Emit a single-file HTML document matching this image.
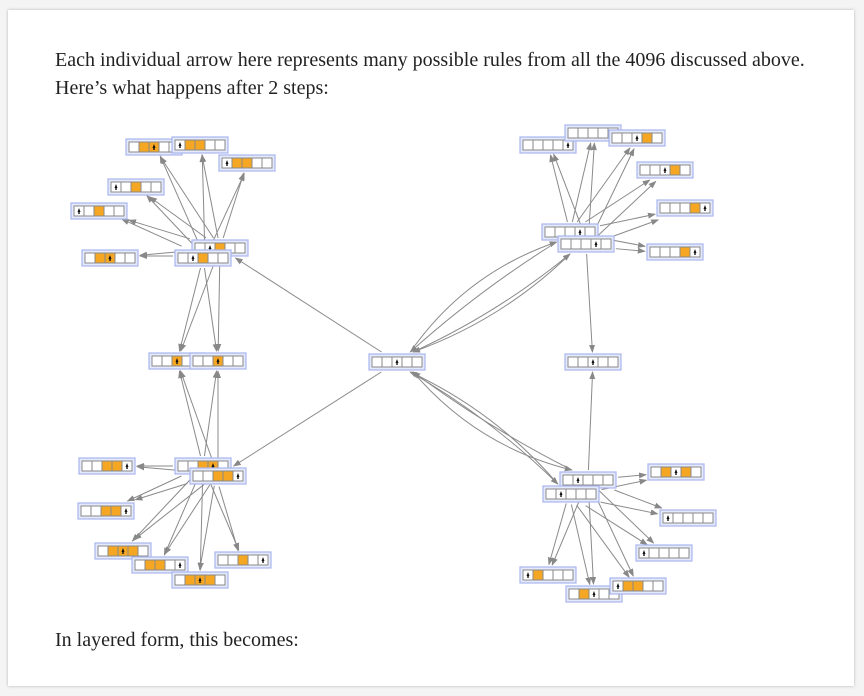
<!DOCTYPE html>
<html><head><meta charset="utf-8">
<style>
body{margin:0;background:#f4f4f4;}
#p{position:absolute;left:8px;top:10px;width:846px;height:676px;background:#fff;box-shadow:0 0 3px rgba(0,0,0,.25);}
.t{position:absolute;left:55px;font-family:"Liberation Serif",serif;font-size:20px;color:#222;white-space:nowrap;}
svg{position:absolute;left:0;top:0;}
</style></head><body>
<div id="p"></div>
<div class="t" style="top:49px">Each individual arrow here represents many possible rules from all the 4096 discussed above.</div>
<div class="t" style="top:77px">Here’s what happens after 2 steps:</div>
<div class="t" style="top:629px">In layered form, this becomes:</div>
<svg id="s" width="864" height="696" xmlns="http://www.w3.org/2000/svg">
<defs><marker id="a" markerWidth="8" markerHeight="8" refX="7" refY="3" orient="auto" markerUnits="userSpaceOnUse"><path d="M0,0 L8,3 L0,6z" fill="#888"/></marker></defs>
<g id="e" stroke="#8a8a8a" stroke-width="1" fill="none"></g>
<g id="n"></g>
</svg>
<script>
const N={
c:[369,354,"00d00"],
lh1:[192,240,"0d100"],lh2:[175,250,"0d100"],
l1:[126,139,"01D00"],l2:[172,137,"d1100"],l3:[219,155,"d1100"],l4:[108,179,"d0100"],l5:[71,203,"d0100"],l6:[82,250,"01D00"],
lm1:[149,353,"00D00"],lm2:[190,353,"00D00"],
lb1:[175,458,"001D0"],lb2:[190,468,"0011d"],
b1:[79,458,"0011d"],b2:[78,503,"0011d"],b3:[95,543,"01D10"],b4:[132,557,"0110d"],b5:[172,572,"01D10"],b6:[215,552,"0010d"],
rh1:[542,224,"000d0"],rh2:[558,236,"000d0"],
r1:[520,137,"0000d"],r2:[565,125,"0000d"],r3:[609,130,"00d10"],r4:[637,162,"00d10"],r5:[657,200,"0001d"],r6:[647,244,"0001d"],
rm:[565,354,"00d00"],
rb1:[560,472,"0d000"],rb2:[543,486,"0d000"],
q1:[648,464,"01d10"],q2:[660,510,"d0000"],q3:[636,545,"d0000"],q4:[520,567,"d1000"],q5:[566,586,"01d00"],q6:[610,578,"d1100"]
};
const ns="http://www.w3.org/2000/svg";
const E=document.getElementById('e'),G=document.getElementById('n');
function C(k){const n=N[k];return [n[0]+28,n[1]+8];}
function line(a,b,off,curve){let [x1,y1]=C(a),[x2,y2]=C(b);
 const dx=x2-x1,dy=y2-y1,L=Math.hypot(dx,dy),ux=dx/L,uy=dy/L;
 const px=-uy*off,py=ux*off;
 const tx=Math.abs(ux)>0.01?30/Math.abs(ux):1e9, ty=Math.abs(uy)>0.01?10/Math.abs(uy):1e9;
 const s=Math.min(tx,ty);
 const ex=x2-ux*s+px,ey=y2-uy*s+py,sx=x1+ux*s+px,sy=y1+uy*s+py;
 const p=document.createElementNS(ns,'path');
 if(curve){const mx=(sx+ex)/2-uy*curve,my=(sy+ey)/2+ux*curve;p.setAttribute('d',`M${sx},${sy} Q${mx},${my} ${ex},${ey}`);}
 else p.setAttribute('d',`M${sx},${sy} L${ex},${ey}`);
 p.setAttribute('marker-end','url(#a)');E.appendChild(p);}
['l1','l2','l3','l4','l5','l6'].forEach(k=>{line('lh1',k,0);line('lh2',k,2);});
['b1','b2','b3','b4','b5','b6'].forEach(k=>{line('lb1',k,0);line('lb2',k,2);});
['r1','r2','r3','r4','r5','r6'].forEach(k=>{line('rh1',k,0);line('rh2',k,2);});
['q1','q2','q3','q4','q5','q6'].forEach(k=>{line('rb1',k,0);line('rb2',k,2);});
['lm1','lm2'].forEach(k=>{line('lh1',k,0);line('lh2',k,0);line('lb1',k,0);line('lb2',k,0);});
line('rh2','rm',0);line('rb1','rm',0);
line('c','lh1',0);line('c','lb2',0);
line('c','rh1',0,-30);line('rh2','c',0,-20);line('c','rh2',0,12);line('rh1','c',0,8);
line('c','rb1',0,30);line('rb2','c',0,20);line('c','rb2',0,-12);line('rb1','c',0,-8);
for(const k in N){const [x,y,p]=N[k];
 let h=`<rect x="${x}" y="${y}" width="56" height="16" fill="#e4e9fb" stroke="#a9b6ee" stroke-width="1.2"/>`;
 for(let i=0;i<5;i++){const c=p[i],cx=x+3+i*10;const o=(c=='1'||c=='D');
  h+=`<rect x="${cx}" y="${y+3}" width="10" height="10" fill="${o?'#f5a623':'#fff'}" stroke="#8a8a8a" stroke-width="1"/>`;
  if(c=='d'||c=='D')h+=`<path d="M${cx+5},${y+5} l-1.5,4 h3z" fill="#111"/><rect x="${cx+4.3}" y="${y+9}" width="1.4" height="2" fill="#111"/>`;}
 G.insertAdjacentHTML('beforeend',h);}
</script>
</body></html>
